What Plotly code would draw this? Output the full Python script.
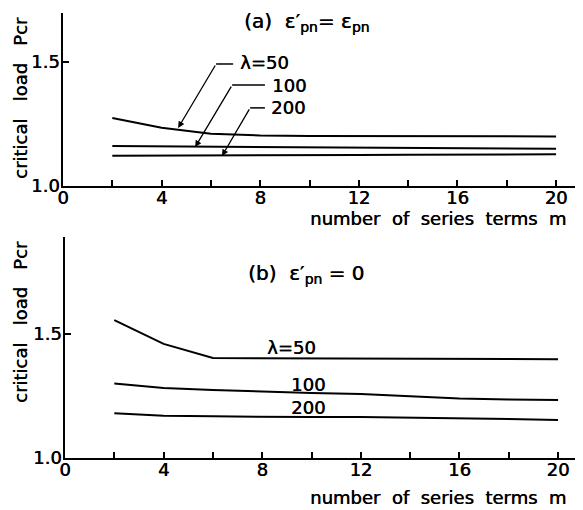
import plotly.graph_objects as go

m = [2, 4, 6, 8, 10, 12, 14, 16, 18, 20]

# panel (a)
a_l50 = [1.274, 1.235, 1.211, 1.204, 1.202, 1.201, 1.201, 1.200, 1.200, 1.200]
a_l100 = [1.161, 1.160, 1.158, 1.157, 1.156, 1.155, 1.153, 1.152, 1.151, 1.150]
a_l200 = [1.122, 1.122, 1.123, 1.124, 1.125, 1.125, 1.126, 1.127, 1.127, 1.128]

# panel (b)
b_l50 = [1.556, 1.460, 1.403, 1.402, 1.401, 1.400, 1.400, 1.400, 1.399, 1.398]
b_l100 = [1.300, 1.282, 1.274, 1.267, 1.262, 1.258, 1.248, 1.240, 1.236, 1.234]
b_l200 = [1.180, 1.170, 1.168, 1.166, 1.165, 1.165, 1.163, 1.160, 1.157, 1.153]

x_tickvals = [0, 2, 4, 6, 8, 10, 12, 14, 16, 18, 20]
x_ticktext = ["0", "", "4", "", "8", "", "12", "", "16", "", "20"]
y_tickvals = [1.0, 1.5]
y_ticktext = ["1.0", "1.5"]

FONT = "DejaVu Sans"
FS = 18
SHADOW = "0.5px 0px 0px black"
OFF = 8                      # page body margin
W, H = 583 - OFF, 510 - OFF

fig = go.Figure()
line = dict(color="black", width=2)
for ys in (a_l50, a_l100, a_l200):
    fig.add_trace(go.Scatter(x=m, y=ys, mode="lines", line=line, xaxis="x", yaxis="y", showlegend=False))
for ys in (b_l50, b_l100, b_l200):
    fig.add_trace(go.Scatter(x=m, y=ys, mode="lines", line=line, xaxis="x2", yaxis="y2", showlegend=False))

def px_x(p):
    return (p - OFF) / W
def px_y(p):
    return 1 - (p - OFF) / H

tickfont = dict(family=FONT, size=18, color="black", shadow=SHADOW)
axis_common = dict(
    showgrid=False, zeroline=False, showline=True, linecolor="black", linewidth=1.5,
    ticks="inside", ticklen=6, tickcolor="black", tickwidth=1.5, automargin=False,
    tickfont=tickfont,
)

fig.update_layout(
    width=W, height=H,
    margin=dict(l=0, r=0, t=0, b=0),
    paper_bgcolor="white", plot_bgcolor="white",
    xaxis=dict(domain=[px_x(63), px_x(580)], range=[0, 20.97], anchor="y",
               tickvals=x_tickvals, ticktext=x_ticktext, ticklabelstandoff=-5, **axis_common),
    yaxis=dict(domain=[px_y(186), px_y(13)], range=[1.0, 1.6976], anchor="x",
               tickvals=y_tickvals, ticktext=y_ticktext, ticklabelstandoff=-2, **axis_common),
    xaxis2=dict(domain=[px_x(65), px_x(580)], range=[0, 20.89], anchor="y2",
                tickvals=x_tickvals, ticktext=x_ticktext, ticklabelstandoff=-5, **axis_common),
    yaxis2=dict(domain=[px_y(458), px_y(237)], range=[1.0, 1.891], anchor="x2",
                tickvals=y_tickvals, ticktext=y_ticktext, ticklabelstandoff=-2, **axis_common),
)

def pann(text, x, y, xanchor="center", angle=0, size=FS):
    fig.add_annotation(text=text, x=px_x(x), y=px_y(y), xref="paper", yref="paper",
                       showarrow=False, xanchor=xanchor, yanchor="middle",
                       textangle=angle,
                       font=dict(family=FONT, size=size, color="black", shadow=SHADOW))

# axis titles
pann("critical   load   Pcr", 20, 98, angle=-90)
pann("critical   load   Pcr", 20, 322, angle=-90)
pann("number  of  series  terms  m", 568, 218, xanchor="right")
pann("number  of  series  terms  m", 568, 497, xanchor="right")

# panel titles
pann("(a)  ε′<sub>pn</sub>= ε<sub>pn</sub>", 242, 22, xanchor="left", size=20)
pann("(b)  ε′<sub>pn</sub> = 0", 246, 274, xanchor="left", size=20)

def dann(text, x, y, xref, yref, xanchor="left"):
    fig.add_annotation(text=text, x=x, y=y, xref=xref, yref=yref, showarrow=False,
                       xanchor=xanchor, yanchor="middle",
                       font=dict(family=FONT, size=FS, color="black", shadow=SHADOW))

# panel (a) labels with leaders
dann("λ=50", 7.1, 1.496, "x", "y")
dann("100", 8.4, 1.407, "x", "y")
dann("200", 8.35, 1.315, "x", "y")

leaders = [
    # (corner_x, corner_y, end_x, tip_x, tip_y)
    (6.21, 1.492, 6.90, 4.67, 1.234),
    (6.86, 1.407, 8.19, 5.36, 1.157),
    (7.59, 1.315, 8.19, 6.45, 1.121),
]
for cx, cy, ex, tx, ty in leaders:
    fig.add_shape(type="line", x0=cx, y0=cy, x1=ex, y1=cy, xref="x", yref="y",
                  line=dict(color="black", width=1.5))
    fig.add_annotation(text="", x=tx, y=ty, ax=cx, ay=cy, xref="x", yref="y",
                       axref="x", ayref="y", showarrow=True, arrowhead=2,
                       arrowsize=1, arrowwidth=1.3, arrowcolor="black")

# panel (b) labels
dann("λ=50", 8.1, 1.445, "x2", "y2")
dann("100", 9.1, 1.295, "x2", "y2")
dann("200", 9.1, 1.205, "x2", "y2")

fig.write_html("out.html")
